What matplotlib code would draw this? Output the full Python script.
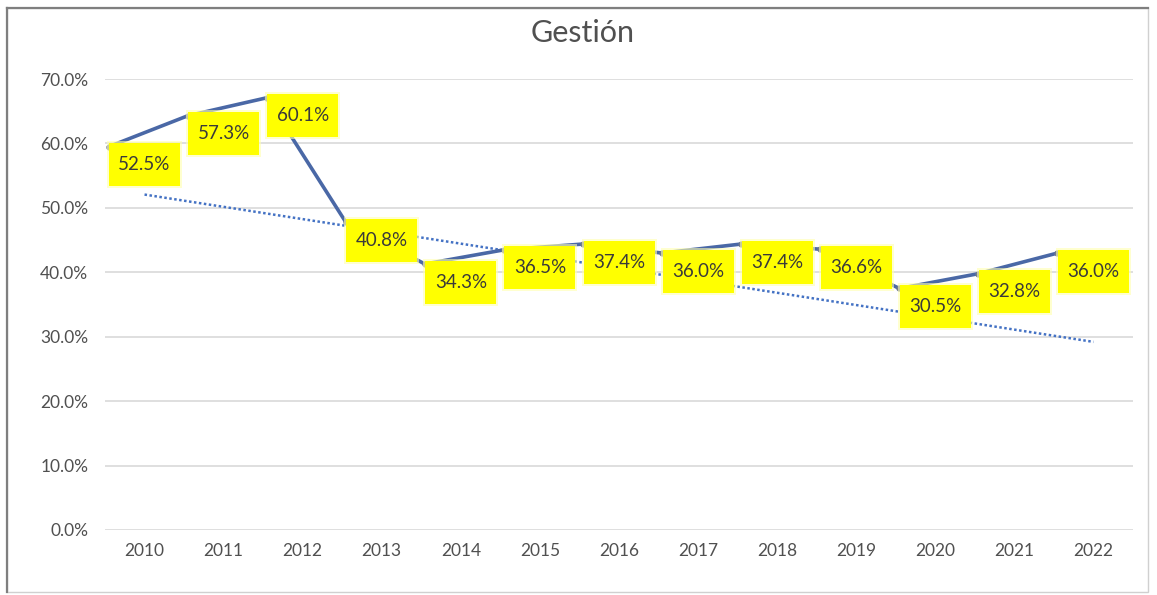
import numpy as np
import matplotlib
matplotlib.use("Agg")
import matplotlib.pyplot as plt
from matplotlib.path import Path
from matplotlib.transforms import offset_copy, Affine2D
from matplotlib.patches import Rectangle
from matplotlib.lines import Line2D

plt.rcParams['font.family'] = ['Lato', 'DejaVu Sans']

# ---- data ----
years = ['2010', '2011', '2012', '2013', '2014', '2015', '2016',
         '2017', '2018', '2019', '2020', '2021', '2022']
values = [52.5, 57.3, 60.1, 40.8, 34.3, 36.5, 37.4, 36.0, 37.4, 36.6, 30.5, 32.8, 36.0]
yticks = [0, 10, 20, 30, 40, 50, 60, 70]
title = 'Gestión'

W, H = 1157, 595
fig = plt.figure(figsize=(W / 100, H / 100), dpi=100)
ax = fig.add_axes([105 / W, 1 - 530 / H, (1133 - 105) / W, (530 - 79) / H])

x = np.arange(len(years))
vals = np.array(values) / 100.0

ax.set_xlim(-0.5, len(years) - 0.5)
ax.set_ylim(0, 0.70)
ax.set_yticks([v / 100 for v in yticks])
ax.set_yticklabels([f'{v:.1f}%' for v in yticks])
ax.set_xticks(x)
ax.set_xticklabels(years)
for s in ax.spines.values():
    s.set_visible(False)
ax.tick_params(axis='both', length=0, colors='#505050', labelsize=12.5)
ax.tick_params(axis='y', pad=12)
ax.tick_params(axis='x', pad=9)
ax.grid(axis='y', color='#d9d9d9', linewidth=1.2)
ax.set_axisbelow(True)

# trend line (linear fit of the series)
coef = np.polyfit(x, vals, 1)
ax.plot(x, np.polyval(coef, x), color='#4472C4', linestyle=(0, (1, 1)),
        linewidth=1.8, zorder=2)

# main line (drawn displaced, as in the reference image)
line_tr = offset_copy(ax.transData, fig=fig, x=-36, y=45, units='dots')
ax.plot(x, vals, color='#4a68a6', linewidth=2.6, transform=line_tr,
        solid_capstyle='round', marker='o', markersize=3.5,
        markerfacecolor='#707a8c', markeredgecolor='#707a8c', zorder=3)

# data labels
def fixed_box(w, h):
    def box(x0, y0, width, height, mutation_size):
        cx = x0 + width / 2
        cy = y0 + height / 2
        return Path.unit_rectangle().transformed(
            Affine2D().scale(w, h).translate(cx - w / 2, cy - h / 2))
    return box

lab_tr = offset_copy(ax.transData, fig=fig, x=0, y=27, units='dots')
for xi, v, raw in zip(x, vals, values):
    ax.text(xi, v, f'{raw:.1f}%', transform=lab_tr, ha='center', va='center',
            fontsize=13.5, color='#3a3a3a', zorder=4,
            bbox=dict(boxstyle=fixed_box(75, 47), facecolor='#ffffb0',
                      edgecolor='none', alpha=0.6))
    ax.text(xi, v, f'{raw:.1f}%', transform=lab_tr, ha='center', va='center',
            fontsize=13.5, color='#3a3a3a', zorder=5,
            bbox=dict(boxstyle=fixed_box(71, 43), facecolor='#ffff00',
                      edgecolor='none'))

fig.text(583 / W, 1 - 33 / H, title, ha='center', va='center',
         fontsize=22, color='#505050')

# chart border
fig.patches.append(Rectangle((7 / W, 3 / H), (1148 - 7) / W, (587 - 3) / H,
                             transform=fig.transFigure, fill=False,
                             edgecolor='#d0d0d0', linewidth=1))
fig.lines.append(Line2D([7 / W, 7 / W], [3 / H, 1 - 8 / H], transform=fig.transFigure,
                        color='#7f7f7f', linewidth=1.6))
fig.lines.append(Line2D([7 / W, 1148 / W], [1 - 8 / H, 1 - 8 / H], transform=fig.transFigure,
                        color='#7f7f7f', linewidth=1.6))

fig.savefig('out.png', dpi=100)
